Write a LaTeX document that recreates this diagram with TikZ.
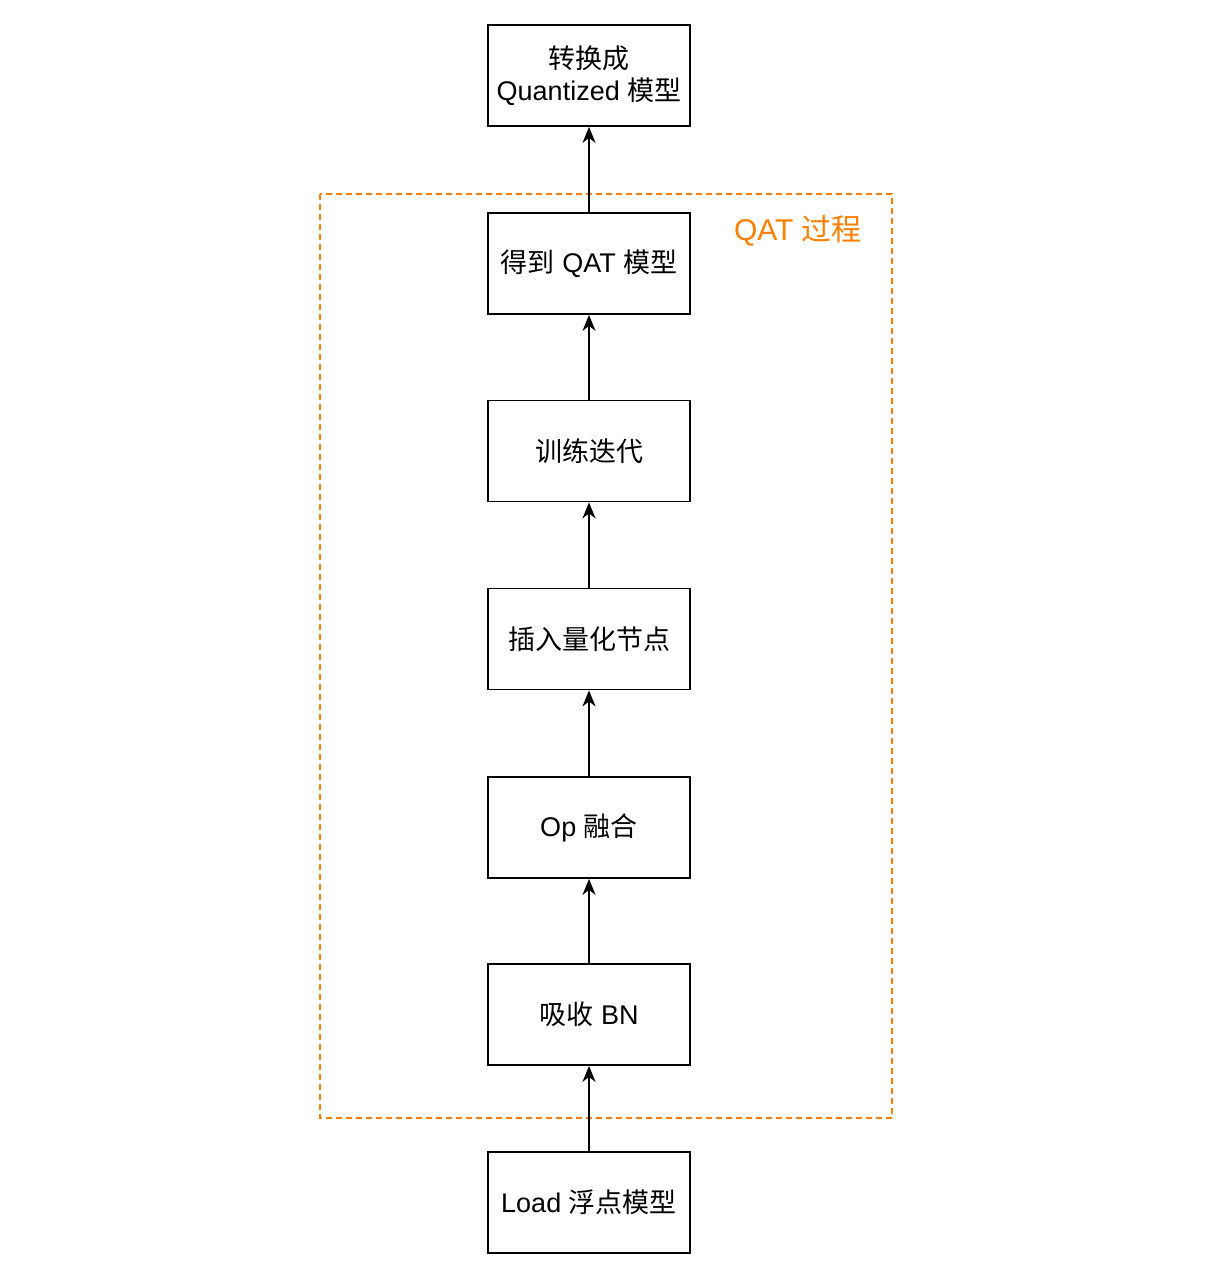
\documentclass[tikz,border=0pt]{standalone}
\usepackage{fontspec}
\setmainfont{Liberation Sans}
\newfontfamily\cjk{Noto Sans CJK SC}
\usetikzlibrary{arrows.meta}
\definecolor{qorange}{HTML}{FF8000}
\begin{document}
\begin{tikzpicture}[x=1pt,y=-1pt,
  stepbox/.style={draw=black,line width=1.8pt,minimum width=202pt,minimum height=101pt,inner sep=0pt,align=center,font=\fontsize{27}{32}\selectfont},
  flow/.style={line width=1.8pt,-{Stealth[length=16pt,width=13pt,inset=5pt]}}]
\useasboundingbox (0,0) rectangle (1211,1280);
\fill[white] (0,0) rectangle (1211,1280);
\draw[qorange,line width=1.4pt,dash pattern=on 6pt off 4pt] (320,194) rectangle (892,1118);
\node[text=qorange,font=\fontsize{30}{34}\selectfont] (qat) at (798,231) {QAT {\cjk 过程}};
\node[stepbox] (n1) at (589,75.5) {{\cjk 转换成}\\Quantized {\cjk 模型}};
\node[stepbox] (n2) at (589,263.5) {{\cjk 得到} QAT {\cjk 模型}};
\node[stepbox] (n3) at (589,451) {\cjk 训练迭代};
\node[stepbox] (n4) at (589,639) {\cjk 插入量化节点};
\node[stepbox] (n5) at (589,827.5) {Op {\cjk 融合}};
\node[stepbox] (n6) at (589,1014.5) {{\cjk 吸收} BN};
\node[stepbox] (n7) at (589,1202.5) {Load {\cjk 浮点模型}};
\draw[flow] (n7) -- (n6);
\draw[flow] (n6) -- (n5);
\draw[flow] (n5) -- (n4);
\draw[flow] (n4) -- (n3);
\draw[flow] (n3) -- (n2);
\draw[flow] (n2) -- (n1);
\end{tikzpicture}
\end{document}
